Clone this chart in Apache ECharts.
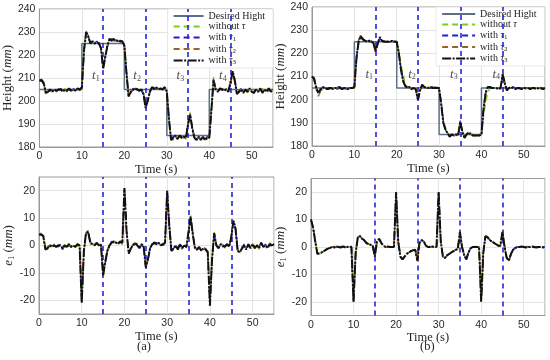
<!DOCTYPE html>
<html><head><meta charset="utf-8">
<script src="https://cdn.jsdelivr.net/npm/echarts@6/dist/echarts.min.js"></script>
<style>html,body{margin:0;padding:0;background:#fff}#c{width:550px;height:360px}</style>
</head><body><div id="c"></div>
<script>
// ---------- DATA ----------
const time = [
 0,0.5,1,1.5,2,2.5,3,3.5,4,4.5,
 5,5.5,6,6.5,7,7.5,8,8.5,9,9.5,
 10,10.5,11,11.5,12,12.5,13,13.5,14,14.5,
 15,15.5,16,16.5,17,17.5,18,18.5,19,19.5,
 20,20.5,21,21.5,22,22.5,23,23.5,24,24.5,
 25,25.5,26,26.5,27,27.5,28,28.5,29,29.5,
 30,30.5,31,31.5,32,32.5,33,33.5,34,34.5,
 35,35.5,36,36.5,37,37.5,38,38.5,39,39.5,
 40,40.5,41,41.5,42,42.5,43,43.5,44,44.5,
 45,45.5,46,46.5,47,47.5,48,48.5,49,49.5,
 50,50.5,51,51.5,52,52.5,53,53.5,54,54.5,
 55];
const desiredT = [0,10,10,20,20,30,30,40,40,55];
const desiredY = [205,205,225,225,205,205,185,185,205,205];
const eventTimes = [15,25,35,45];
const seriesNames = ['Desired Hight','without τ','with τ1','with τ2','with τ3'];
const tLabelXA = [13.3,23.0,33.2,43.2];
const tLabelXB = [13.5,23.6,33.5,43.5];
const tLabelY = 211;
const xTickMax = 55;

// (a) height
const aTop0 = [209,208.5,207,203,203.5,204.5,204,205,204,205.5, 204.5,204,205.5,204,205,205,204.5,205,205,204.5,
 205.5,221,230.5,227.5,225.5,225,225.5,225,225.5,223.5, 215,220,224.5,226.5,227,226,226.5,226,226.5,225.5,
 224.5,213,202.5,203.5,205.5,205,205.5,204,205.5,203.5, 197.5,201,204.5,205.5,206,205.5,205.5,205,205.5,205.5,
 204.5,193,183.5,183,184.5,184,184.5,183.5,185,183.5, 191,195,187.5,184.5,183.5,184,183.5,184,183.5,183.5,
 184.5,197,210.5,205.5,204.5,205,205.5,204,205.5,204.5, 208.5,212.5,208,203.5,204.5,204.5,204,205.5,203.5,205,
 204.5,204,204.5,205,204,205.5,203.5,205,204,205, 204.5];
const aTop1 = [208.5,209,207.5,204,203.5,205,204.5,204.5,205,204.5, 205.5,204.5,204.5,205,205,204,205.5,204.5,205,205.5,
 205.5,222.5,229.5,228,225.5,225.5,225,226,224.5,223, 214.5,219.5,223.5,227,226,227,226.5,226,226,226.5,
 224,212.5,202,204.5,204.5,205.5,205,205,204.5,203, 197.5,200.5,203.5,206,205,206,205.5,205,205.5,205.5,
 204,192.5,183,184.5,184.5,184,184.5,184.5,184,184.5, 190.5,193.5,188.5,184.5,183.5,184,183.5,184,183.5,184.5,
 184,196.5,209.5,205,204.5,205,205,205,204.5,204.5, 208,212.5,209,203.5,204,205.5,204,204.5,204.5,205,
 204.5,203.5,205.5,204,205,204,204.5,204.5,205,204.5, 205];
const aTop2 = [209,209.5,208,203,204,204.5,204.5,205,204,205, 204.5,204.5,205,204,205.5,204.5,205,205,205,204.5,
 206,221.5,230,228.5,225,225.5,225.5,225,225.5,223.5, 214,219,224,226.5,227,226.5,226,226.5,225.5,226,
 224.5,212,202.5,203.5,205,205,205.5,204.5,205,203.5, 197,200,204,205.5,205.5,205.5,205,205.5,204.5,206,
 204.5,192,183.5,183.5,185,183.5,184.5,184,184.5,183.5, 190,194.5,187.5,184,183,184.5,183.5,184.5,183,184,
 184.5,196,209,205.5,204,205,205.5,204.5,205,204, 208.5,213,208.5,203,204.5,205,203.5,205,204.5,205,
 204,204,205,204.5,205,204,205,204,205,204.5, 205];
const aTop3 = [209,209,208,203.5,204,205,204,205,204.5,205, 205,204,205,204.5,205.5,204.5,205,204.5,205.5,205,
 206,222,230,228,225,226,225,225.5,225,223, 214,219,224,227,226.5,227,226,226.5,226,226,
 224,212,202,204,205,205.5,205,204.5,205,203, 197,200,204,206,205.5,206,205,205.5,205,206,
 204,192,183,184,185,183.5,185,184,184.5,184, 190,194,188,184,183,184.5,183,184.5,183,184,
 184,196,209,205,204,205.5,205,204.5,205,204, 208,213,209,203,204,205,203.5,205,204,205.5,
 204,203.5,205,204,205.5,203.5,205,204,205.5,204, 205];

// (a) error e1
const aErr0 = [4,4.5,3,-1,-1.5,0.5,-0.5,0.5,-1,0.5, -0.5,-1,0.5,-1,0,0,-0.5,0,0,-0.5,
 -20.5,-2.5,5,5.5,0.5,0,0.5,0.5,0.5,0, -10.5,-5.5,-1.5,0.5,1,1,1.5,0.5,1,0.5,
 20.5,5.5,-2.5,-1.5,0.5,0.5,0.5,-1,0.5,0, -7.5,-4.5,-0.5,0,1.5,0.5,0.5,0,0.5,0.5,
 19.5,7.5,-1.5,-1.5,-0.5,-1,0,-1.5,0.5,-1, 5.5,11,3.5,-0.5,-1.5,-1,-1.5,-1,-1.5,-2,
 -21.5,-4.5,5,0.5,-0.5,0,0.5,-1,0.5,0, 3.5,8.5,6.5,-1.5,-2,-1.5,-0.5,-1,0,-0.5,
 0,-0.5,0.5,-1.5,0.5,0,-0.5,-0.5,1,0.5, 0];
const aErr1 = [4,4,3.5,-1,-1,0,0,-0.5,0,-0.5, 0.5,-1.5,0,-0.5,0,-0.5,0.5,-0.5,0,0.5,
 -20.5,-2,4.5,5,1.5,0.5,0,1,0.5,0.5, -10.5,-6.5,-2,0,1.5,1,1,1,1,1.5,
 20.5,5,-3,-0.5,0,0.5,0.5,-0.5,0,-0.5, -8,-5,-1,0,1,1,0.5,0.5,0,1,
 20,7,-2.5,-1,-0.5,-1,0.5,-0.5,-0.5,-0.5, 5,10,4.5,-1,-1,-1,-1.5,-1.5,-1,-2.5,
 -21.5,-5,4,0,-1,0.5,-0.5,0,0,-0.5, 3,9,6,-2,-2,-1,0.5,-1,0,-1,
 0.5,-0.5,0,-0.5,1,-0.5,0.5,-1,0,0, 0.5];
const aErr2 = [4,4,3.5,-1.5,-0.5,0,-0.5,0.5,-0.5,0, 0,-0.5,0,-1,0.5,-0.5,-0.5,-0.5,0.5,0,
 -21,-2.5,4.5,5.5,1,0.5,0.5,0.5,0,0.5, -11,-6,-2.5,0,1,1.5,1,1,1.5,0.5,
 21,5.5,-3,-1,0.5,1,0,-0.5,0.5,-0.5, -8,-5.5,-1,0.5,0.5,0.5,1,0,1,0.5,
 20,7,-2,-1.5,0,-1,0.5,-1,0.5,-0.5, 5,10.5,4,-1,-1.5,-0.5,-2,-0.5,-1.5,-2,
 -22,-5,4.5,0.5,-1,0.5,0,-0.5,0.5,-0.5, 3,9,6.5,-2,-2.5,-0.5,0,-1.5,0.5,-0.5,
 0.5,-1,0.5,-1,1,-0.5,0,-0.5,0.5,0, 0.5];
const aErr3 = [4,4,3.5,-1.5,-1,0,-0.5,0,-0.5,0, 0,-1,0,-0.5,0.5,-0.5,0,-0.5,0.5,0,
 -21,-2,4.5,5,1,0.5,0,1,0,0.5, -11,-6,-2,0,1,1.5,1,0.5,1.5,1,
 21,5,-3,-1,0,1,0,-1,0.5,-0.5, -8,-5,-1,0.5,1,0.5,1,0,0.5,1,
 20,7,-2,-1,0,-1.5,0.5,-1,0,-0.5, 5,10.5,4,-1,-1.5,-0.5,-2,-1,-1.5,-2.5,
 -22,-5,4.5,0,-1,0.5,0,-0.5,0.5,-0.5, 3,9,6,-2,-2.5,-1,0,-1.5,0.5,-1,
 0.5,-1,0,-1,1,-0.5,0,-1,0.5,0, 0.5];

// (b) height
const bTop0 = [209,208.5,205.5,202,203.5,204.5,205,205,204.5,205, 205,204.5,205.5,205,205,204.5,205,205,204.5,205,
 205,217,224.5,227,226.5,225.5,225.5,225,225,225, 221.5,224.5,226,226,225,225,225.5,225,225,225.5,
 225,221,215,211,207,205.5,205,205,205,205, 200.5,204,206,205.5,205,205.5,205,205,205,205.5,
 205,199,191,188,186,185,184.5,185,184.5,185, 190,186.5,184.5,185.5,185.5,185,184.5,185,184.5,184.5,
 185,193,199,203,205,205.5,205,205,205,204.5, 210,208,204.5,205,205,205,205,205,204.5,205,
 205,204.5,205,205,205,204.5,205,205,204.5,205, 205];
const bTop1 = [210,209.5,205.5,203,204,205.5,205,204.5,204.5,205, 205,205,204.5,205,205,205,204.5,205,205,205,
 205,218.5,225,227,226,225,225.5,225,225,224.5, 220.5,224,226.5,225.5,225,225.5,225,225,225.5,225,
 225,220,213.5,208.5,206,205,205,205,205,204.5, 199.5,203.5,206,205.5,205,205,205,205.5,205,205,
 205,198.5,190.5,187,185.5,184.5,185,184.5,185,185, 191,186,184,185,185.5,185,184.5,184.5,185,184.5,
 185,196.5,203.5,205.5,205,205,205,204.5,205,205, 211,207.5,204,205,205,205.5,205,205,204.5,205,
 205,205,204.5,205,205,205,205,204.5,205,205, 205];
const bTop2 = [210,208.5,204.5,201.5,203.5,205,205,205,205,204.5, 205,205,205,205,205,204.5,205,205,205,205,
 205,218,225.5,228,226.5,225.5,225,225,225.5,224.5, 221,224.5,226.5,225.5,225.5,225,225,225,225,225,
 225,220,213,208.5,206,205.5,205,205,205,204.5, 200,204,206.5,205.5,205,205,205,205,205.5,205,
 205,198,190,187.5,185.5,184.5,185,185,184.5,185, 190.5,186,184,185,185.5,185,185,184.5,184.5,185,
 185,195.5,202.5,205,205.5,205,205,205,205,205, 210.5,207,204.5,205,205,205,205,205,205,205,
 205,205,205,205,205,205,205,205,205,205, 205];
const bTop3 = [210,209,205,203,204.5,205,205.5,204.5,205,205, 204.5,205,205,205.5,204.5,205,205,204.5,205,205,
 205.5,218,225,227.5,226,225.5,225,225.5,225,224.5, 221,224,227,225.5,225,225,225,225.5,225,225,
 225,220,213,208,206,205,205.5,204.5,205,204.5, 200,204,206.5,205.5,205,205,205.5,205,205,205,
 205,198,190,187,185.5,184,185,184.5,185,184.5, 190.5,186,183.5,185,186,185,184.5,184.5,184.5,184.5,
 185,196,203,205.5,205.5,205,205,205,204.5,205, 211,207,204,205,205.5,205,204.5,205,205,204.5,
 205,205,205,204.5,205,205,204.5,205,205,204.5, 205];

// (b) error e1
const bErr0 = [9,7.5,2.5,-2,-2.5,-2,-1.5,-1,-0.5,-0.3, 0,0,0,0,0,0,0,0,0,0,
 -20,-2.5,3,4,3.2,2.5,1.8,1.2,0.8,0.5, -3,1.5,3,2,0.5,0.2,0,0,0,0,
 20,3,-3,-4.5,-3.8,-2.8,-2,-1.5,-1.2,-1, -4.5,1,2.5,2.2,0.8,0,0,0,0,0,
 20,2.5,-3,-4,-3.2,-2.5,-2,-1.5,-1,-0.8, 5,0.5,-2.5,-4.5,-2.5,-0.5,0,0,0,0,
 -20,-2.5,3.5,4,2.8,2,1.5,1,0.7,0.5, 5,0.5,-3.5,-5,-3,-1.2,-0.5,0,0,0,
 0,0,0,0,0,0,0,0,0,0, 0];
const bErr1 = [10,7,2,-2.5,-2.2,-2,-1.5,-1,-0.5,-0.2, 0,0.2,-0.2,0,0.2,0,-0.2,0,0,0.2,
 -20,-2,3.5,4,3,2.3,1.5,1.2,0.8,0.5, -3.5,2,3,1.5,0.3,0,0,0.2,0,0,
 20,2,-3.5,-4.5,-3.5,-2.5,-2,-1.5,-1,-1, -5,1.5,2.5,2,0.5,0,0.2,0,0,0,
 20,2,-3.5,-4,-3,-2.5,-1.8,-1.5,-1,-0.8, 5.5,0,-3,-4.5,-2,-0.5,0,0.2,0,0,
 -20,-2,4,3.5,2.5,2,1.5,1,0.5,0.3, 5.5,0,-4,-5,-2.5,-1,-0.3,0,0.2,0,
 0,0,0.2,0,0,-0.2,0,0,0.2,0, 0];
const bErr2 = [10,7.2,2.2,-2.5,-2.3,-2,-1.5,-1,-0.6,-0.3, 0,0,0.2,0,0,0,0,0.2,0,0,
 -20,-2,3.5,4,3,2.5,1.6,1,0.8,0.5, -3.5,2,3,1.5,0.5,0,0,0,0,0,
 20,2,-3.5,-4.5,-3.5,-2.5,-2,-1.5,-1.2,-1, -5,1.5,2.5,2,0.5,0,0,0,0,0,
 20,2,-3.5,-4,-3,-2.5,-2,-1.5,-1,-0.8, 5.5,0,-3,-4.5,-2,-0.5,0,0,0,0,
 -20,-2,4,3.5,2.5,2,1.5,1,0.5,0.5, 5.5,0,-4,-5,-2.5,-1,-0.3,0,0,0,
 0,0,0,0,0,0,0,0,0,0, 0];
const bErr3 = [10,7,2,-2.5,-2.3,-2,-1.5,-1,-0.6,-0.3, 0,-0.2,0.2,0,-0.2,0.2,0,0,0.2,0,
 -20,-2,3.5,4,3,2.5,1.5,1,0.8,0.5, -3.5,2,3,1.5,0.5,0,0.2,0,0,0,
 20,2,-3.5,-4.5,-3.5,-2.5,-2,-1.5,-1.2,-1, -5,1.5,2.5,2,0.5,0,0,0.2,0,0,
 20,2,-3.5,-4,-3,-2.5,-2,-1.5,-1,-0.8, 5.5,0,-3,-4.5,-2,-0.5,0,0,0,0,
 -20,-2,4,3.5,2.5,2,1.5,1,0.5,0.5, 5.5,0,-4,-5,-2.5,-1,-0.3,0,0,0.2,
 0,-0.2,0,0,0.2,0,-0.2,0,0,-0.2, 0];

// ---------- STYLE / BUILD ----------
const COLORS = ['#5b7088','#7ccc1c','#1f1fd6','#9a6228','#111111'];
const DASH = ['solid',[6,4],[6,4],[6,4],[9,1.5,2,1.5]];
const WIDTH = [1.5,1.4,1.4,1.4,2.0];
const VLINE = '#2626d4';
const SERIF = 'Liberation Serif';
const SANS = 'Liberation Sans';
const pairs = (xs, ys) => xs.map((x, i) => [x, ys[i]]);

const grids = [
  {left: 39, top: 9, width: 234, height: 138},
  {left: 312, top: 7, width: 233, height: 139},
  {left: 39, top: 177, width: 235, height: 137},
  {left: 311, top: 178.5, width: 234, height: 137}
];
grids.forEach(g => { g.show = true; g.borderColor = '#9a9a9a'; g.borderWidth = 1; g.backgroundColor = '#fff'; });

const rich = {
  i: {fontFamily: SERIF, fontStyle: 'italic', fontSize: 13, color: '#262626'},
  n: {fontFamily: SERIF, fontSize: 13, color: '#262626'},
  s: {fontFamily: SERIF, fontSize: 8.5, lineHeight: 13, padding: [5,0,0,0], color: '#262626'}
};

function xAxis(gi) {
  return {
    type: 'value', gridIndex: gi, min: 0, max: xTickMax, interval: 10,
    name: 'Time (s)', nameLocation: 'middle', nameGap: 16,
    nameTextStyle: {fontFamily: SERIF, fontSize: 12.5, color: '#262626'},
    axisLine: {show: true, onZero: false, lineStyle: {color: '#9a9a9a', width: 1}},
    axisTick: {show: false},
    axisLabel: {fontFamily: SANS, fontSize: 10.5, color: '#2a2a2a', margin: 4, showMaxLabel: false},
    splitLine: {show: true, lineStyle: {color: '#e4e4e4', width: 1}}
  };
}
function yAxisTop(gi) {
  return {
    type: 'value', gridIndex: gi, min: 180, max: 240, interval: 10,
    name: '{n|Height (}{i|mm}{n|)}', nameLocation: 'middle', nameGap: 21, nameRotate: 90,
    nameTextStyle: {rich: rich},
    axisLine: {show: true, lineStyle: {color: '#9a9a9a', width: 1}},
    axisTick: {show: false},
    axisLabel: {fontFamily: SANS, fontSize: 10.5, color: '#2a2a2a', margin: 4},
    splitLine: {show: true, lineStyle: {color: '#e4e4e4', width: 1}}
  };
}
function yAxisErr(gi) {
  return {
    type: 'value', gridIndex: gi, min: -25, max: 25, interval: 5,
    name: '{i|e}{s|1}{n| (}{i|mm}{n|)}', nameLocation: 'middle', nameGap: 19, nameRotate: 90,
    nameTextStyle: {rich: rich},
    axisLine: {show: true, lineStyle: {color: '#9a9a9a', width: 1}},
    axisTick: {show: false},
    axisLabel: {fontFamily: SANS, fontSize: 10.5, color: '#2a2a2a', margin: 4,
      formatter: v => (Math.abs(v) % 10 === 0 ? String(v) : '')},
    splitLine: {show: true, lineStyle: {color: ['rgba(0,0,0,0)', '#e4e4e4'], width: 1}}
  };
}

function lineSeries(k, gi, xs, ys, withMark) {
  const s = {
    type: 'line', name: seriesNames[k], xAxisIndex: gi, yAxisIndex: gi,
    data: pairs(xs, ys), showSymbol: false, symbol: 'none', animation: false, silent: true,
    color: COLORS[k],
    lineStyle: {color: COLORS[k], width: WIDTH[k], type: DASH[k]},
    z: 2 + k
  };
  if (withMark) {
    s.markLine = {
      silent: true, symbol: ['none','none'], animation: false,
      label: {show: false},
      lineStyle: {color: VLINE, width: 1.6, type: [5,4]},
      data: eventTimes.map(t => ({xAxis: t}))
    };
  }
  return s;
}
function tLabels(gi, xs) {
  return {
    type: 'scatter', xAxisIndex: gi, yAxisIndex: gi, symbolSize: 0, silent: true, animation: false, z: 10,
    data: xs.map(x => [x, tLabelY]),
    label: {
      show: true, position: 'inside',
      formatter: p => '{t|t}{s|' + (p.dataIndex + 1) + '}',
      rich: {
        t: {fontFamily: SERIF, fontStyle: 'italic', fontSize: 13, color: '#222'},
        s: {fontFamily: SERIF, fontSize: 8, lineHeight: 13, padding: [6,0,0,0], color: '#222'}
      }
    }
  };
}

const series = [];
series.push(lineSeries(0, 0, desiredT, desiredY, false));
[aTop0, aTop1, aTop2, aTop3].forEach((arr, i) => series.push(lineSeries(i + 1, 0, time, arr, i === 3)));
series.push(tLabels(0, tLabelXA));
series.push(lineSeries(0, 1, desiredT, desiredY, false));
[bTop0, bTop1, bTop2, bTop3].forEach((arr, i) => series.push(lineSeries(i + 1, 1, time, arr, i === 3)));
series.push(tLabels(1, tLabelXB));
[aErr0, aErr1, aErr2, aErr3].forEach((arr, i) => series.push(lineSeries(i + 1, 2, time, arr, i === 3)));
[bErr0, bErr1, bErr2, bErr3].forEach((arr, i) => series.push(lineSeries(i + 1, 3, time, arr, i === 3)));

const legendRich = {
  n: {fontFamily: SERIF, fontSize: 10, lineHeight: 10, color: '#222'},
  i: {fontFamily: SERIF, fontStyle: 'italic', fontSize: 10, lineHeight: 10, color: '#222'},
  s: {fontFamily: SERIF, fontSize: 7, lineHeight: 10, padding: [4,0,0,0], color: '#222'}
};
function legendFmt(name) {
  if (name === 'Desired Hight') return '{n|Desired Hight}';
  if (name === 'without τ') return '{n|without }{i|τ}';
  const m = name.match(/^with τ(\d)$/);
  return '{n|with }{i|τ}{s|' + m[1] + '}';
}
function legend(right, top, w) {
  return {
    data: seriesNames, orient: 'vertical', right: right, top: top,
    itemWidth: w, itemHeight: 10, itemGap: 0.5, padding: [2, 8, 2, 5],
    backgroundColor: '#fff', borderColor: '#e2e2e2', borderWidth: 0.8,
    selectedMode: false, itemStyle: {opacity: 0},
    textStyle: {fontFamily: SERIF, fontSize: 10, color: '#222', rich: legendRich},
    formatter: legendFmt
  };
}

const option = {
  backgroundColor: '#fff',
  animation: false,
  title: [
    {text: '(a)', left: 137, top: 340, padding: 0, textStyle: {fontFamily: SERIF, fontSize: 12.5, fontWeight: 'normal', color: '#262626'}},
    {text: '(b)', left: 420, top: 340, padding: 0, textStyle: {fontFamily: SERIF, fontSize: 12.5, fontWeight: 'normal', color: '#262626'}}
  ],
  grid: grids,
  xAxis: [xAxis(0), xAxis(1), xAxis(2), xAxis(3)],
  yAxis: [yAxisTop(0), yAxisTop(1), yAxisErr(2), yAxisErr(3)],
  legend: [legend(277, 9, 30), legend(5.5, 7, 33)],
  series: series
};
const chart = echarts.init(document.getElementById('c'), null, {renderer: 'canvas'});
chart.setOption(option);
</script>
</body></html>
